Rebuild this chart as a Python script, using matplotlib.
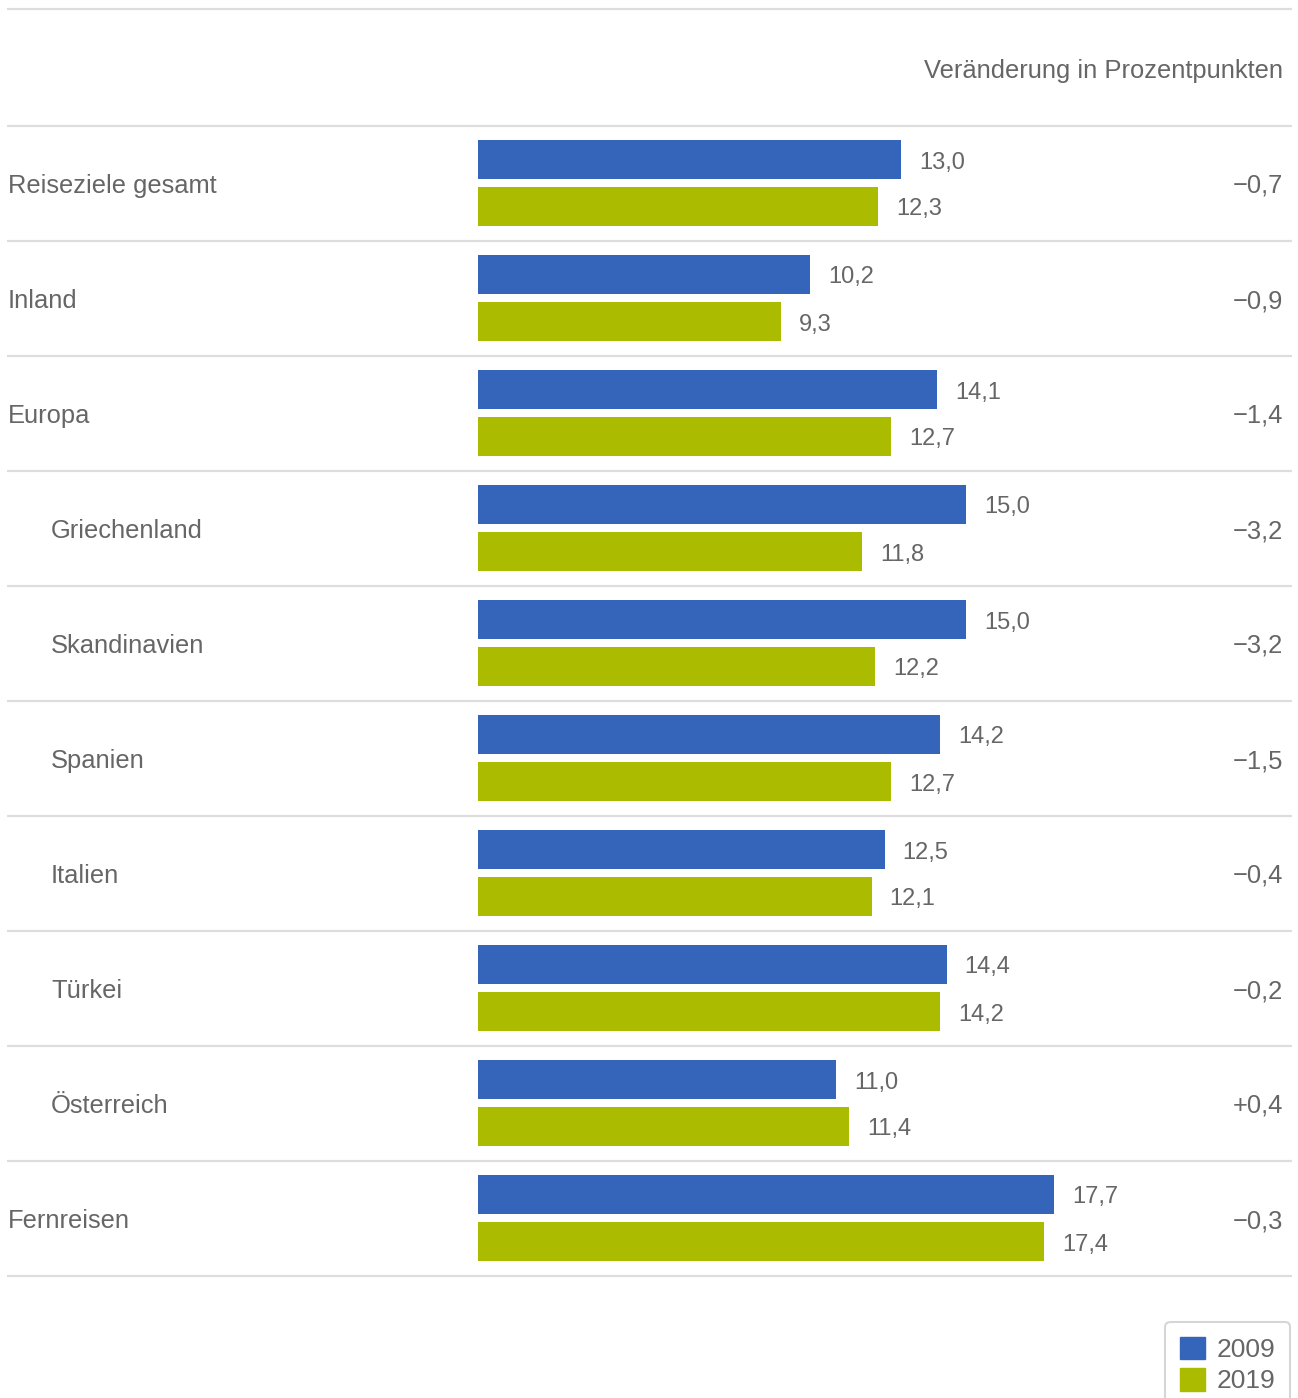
import matplotlib
matplotlib.use("Agg")
import matplotlib.pyplot as plt
from matplotlib.patches import Patch

categories = ["Reiseziele gesamt", "Inland", "Europa", "Griechenland", "Skandinavien",
              "Spanien", "Italien", "Türkei", "Österreich", "Fernreisen"]
indented = [False, False, False, True, True, True, True, True, True, False]
values_2009 = [13.0, 10.2, 14.1, 15.0, 15.0, 14.2, 12.5, 14.4, 11.0, 17.7]
values_2019 = [12.3, 9.3, 12.7, 11.8, 12.2, 12.7, 12.1, 14.2, 11.4, 17.4]
changes = ["−0,7", "−0,9", "−1,4", "−3,2", "−3,2", "−1,5", "−0,4", "−0,2", "+0,4", "−0,3"]
series_labels = ["2009", "2019"]
header = "Veränderung in Prozentpunkten"

BLUE = "#3465ba"
GREEN = "#abbc00"
TXT = "#666666"
GRID = "#dddddd"

plt.rcParams["font.family"] = ["Liberation Sans", "DejaVu Sans"]

W, H = 1298, 1398
fig = plt.figure(figsize=(W / 100, H / 100), dpi=100)
ax = fig.add_axes([0, 0, 1, 1])
ax.axis("off")

px_per_unit = (901 - 478) / 13.0
x0 = 478
ax.set_xlim(-x0 / px_per_unit, (W - x0) / px_per_unit)
pitch = 115.0
yc0 = 183.0
ax.set_ylim((H - yc0) / pitch, -yc0 / pitch)

def px2x(p):
    return (p - x0) / px_per_unit

bh = 39 / pitch
off = 23.5 / pitch
dy = 3.0 / pitch
ys = list(range(len(categories)))
ax.barh([y - off for y in ys], values_2009, height=bh, color=BLUE, left=0)
ax.barh([y + off for y in ys], values_2019, height=bh, color=GREEN, left=0)

for y, v1, v2 in zip(ys, values_2009, values_2019):
    ax.text(v1 + 18 / px_per_unit, y - off + dy, f"{v1:.1f}".replace(".", ","),
            va="center", ha="left", fontsize=17, color=TXT)
    ax.text(v2 + 18 / px_per_unit, y + off + dy, f"{v2:.1f}".replace(".", ","),
            va="center", ha="left", fontsize=17, color=TXT)

for y, c, ind, ch in zip(ys, categories, indented, changes):
    ax.text(px2x(51 if ind else 8), y + dy, c, va="center", ha="left", fontsize=18.4, color=TXT)
    ax.text(px2x(1283), y + dy, ch, va="center", ha="right", fontsize=18.4, color=TXT)

# separators
lines_y = [(9 - yc0) / pitch] + [y - 0.5 for y in ys] + [ys[-1] + 0.5]
for ly in lines_y:
    ax.plot([px2x(7), px2x(1292)], [ly, ly], color=GRID, lw=1.6, solid_capstyle="butt")

ax.text(px2x(1283), (71 - yc0) / pitch, header, va="center", ha="right", fontsize=18.4, color=TXT)

handles = [Patch(facecolor=BLUE, edgecolor=BLUE, label=series_labels[0]),
           Patch(facecolor=GREEN, edgecolor=GREEN, label=series_labels[1])]
leg = fig.legend(handles=handles, loc="upper right",
                 bbox_to_anchor=(1290 / W, 1 - 1322 / H), fontsize=19,
                 handlelength=0.95, handleheight=0.95, handletextpad=0.45,
                 labelspacing=0.22, borderpad=0.55, borderaxespad=0.0,
                 fancybox=True, frameon=True, labelcolor=TXT)
leg.get_frame().set_edgecolor("#cccccc")
leg.get_frame().set_linewidth(1.5)

fig.savefig("out.png", dpi=100, facecolor="white")
